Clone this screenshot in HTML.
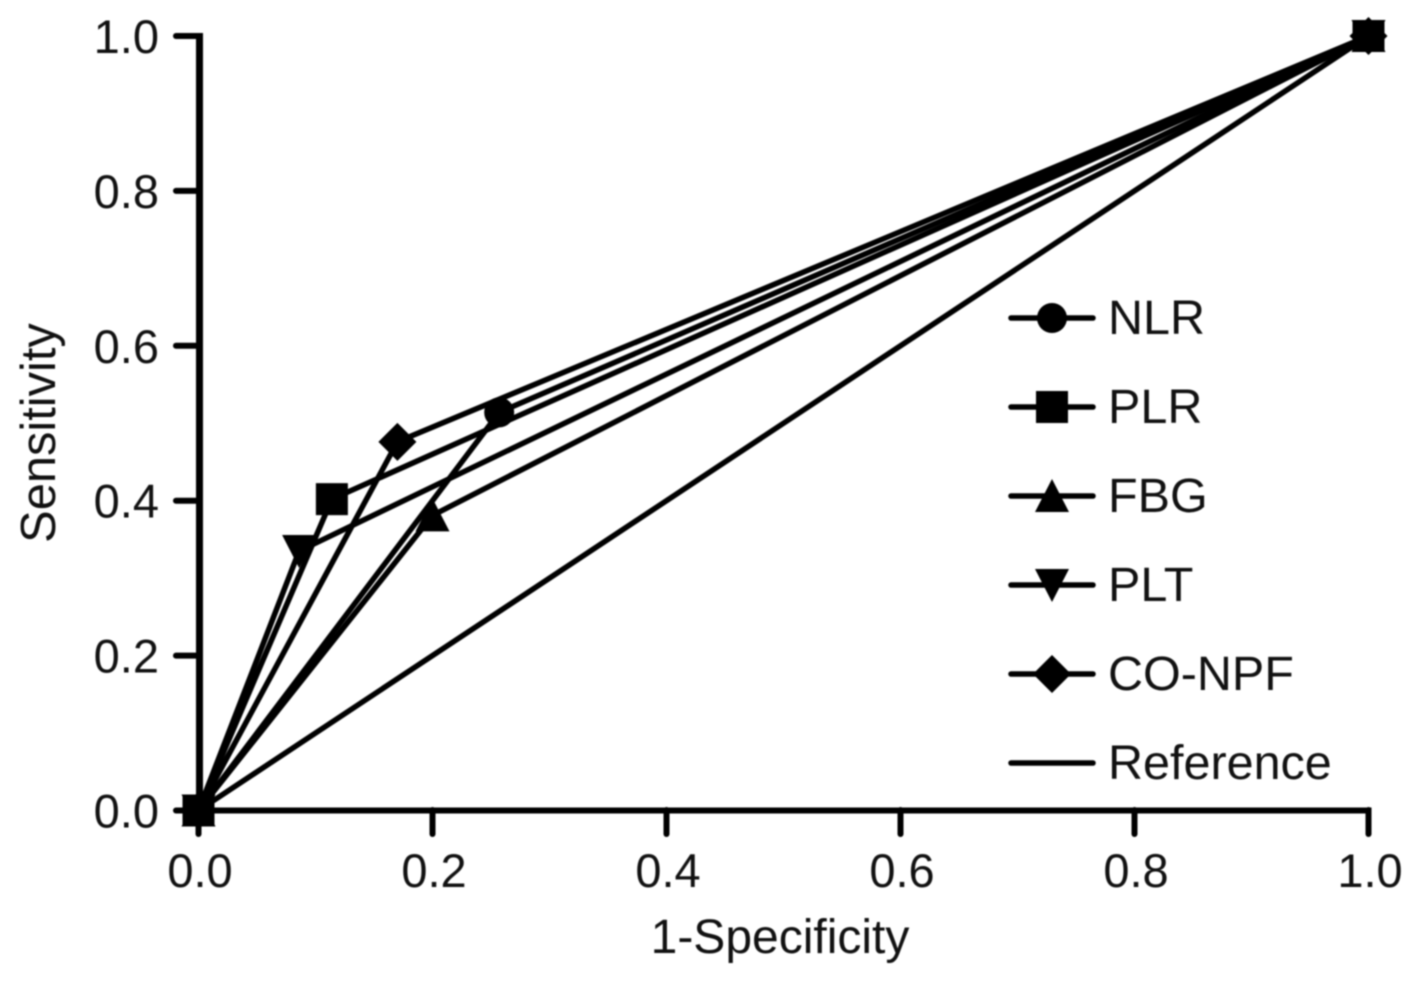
<!DOCTYPE html>
<html>
<head>
<meta charset="utf-8">
<title>ROC curves</title>
<style>
html,body{margin:0;padding:0;background:#fff;width:1417px;height:981px;overflow:hidden}
svg{display:block;filter:blur(0.8px)}
text{font-family:"Liberation Sans",Arial,sans-serif;fill:#111}
</style>
</head>
<body>
<svg id="chart" xmlns="http://www.w3.org/2000/svg" width="1417" height="981" viewBox="0 0 1417 981"></svg>
<script>
const seriesNames = ['NLR', 'PLR', 'FBG', 'PLT', 'CO-NPF'];
const seriesMarkers = ['circle', 'square', 'triangle', 'invtriangle', 'diamond'];
const nlrX = [0, 0.257, 1];
const nlrY = [0, 0.514, 1];
const plrX = [0, 0.114, 1];
const plrY = [0, 0.402, 1];
const fbgX = [0, 0.2, 1];
const fbgY = [0, 0.381, 1];
const pltX = [0, 0.086, 1];
const pltY = [0, 0.335, 1];
const conpfX = [0, 0.17, 1];
const conpfY = [0, 0.476, 1];
const referenceX = [0, 1];
const referenceY = [0, 1];
const xTicks = [0, 0.2, 0.4, 0.6, 0.8, 1];
const yTicks = [0, 0.2, 0.4, 0.6, 0.8, 1];
const legendLabels = ['NLR', 'PLR', 'FBG', 'PLT', 'CO-NPF', 'Reference'];

const allX = [nlrX, plrX, fbgX, pltX, conpfX];
const allY = [nlrY, plrY, fbgY, pltY, conpfY];
const svg = document.getElementById('chart');
const NS = 'http://www.w3.org/2000/svg';
const sx = v => 198.5 + 1170 * v;
const sy = v => 810.5 - 774.5 * v;

function make(tag, attrs, parent) {
  const el = document.createElementNS(NS, tag);
  for (const k in attrs) el.setAttribute(k, attrs[k]);
  (parent || svg).appendChild(el);
  return el;
}
function drawMarker(kind, x, y, parent) {
  if (kind === 'circle') return make('circle', {cx: x, cy: y, r: 15, fill: '#000'}, parent);
  if (kind === 'square') return make('rect', {x: x - 16, y: y - 16, width: 32, height: 32, fill: '#000'}, parent);
  let pts;
  if (kind === 'triangle') pts = [[x, y - 17], [x + 17, y + 16], [x - 17, y + 16]];
  if (kind === 'invtriangle') pts = [[x - 17, y - 16], [x + 17, y - 16], [x, y + 17]];
  if (kind === 'diamond') pts = [[x, y - 19], [x + 19, y], [x, y + 19], [x - 19, y]];
  return make('polygon', {points: pts.map(p => p.join(',')).join(' '), fill: '#000'}, parent);
}

// reference line
const refLine = make('polyline', {
  points: referenceX.map((v, i) => sx(v) + ',' + sy(referenceY[i])).join(' '),
  fill: 'none', stroke: '#000', 'stroke-width': 5.5
});



// axes
const axisY = make('line', {x1: 199.5, y1: sy(1) - 3, x2: 199.5, y2: 813.5, stroke: '#000', 'stroke-width': 7});


const axisX = make('line', {x1: 196, y1: 810.5, x2: sx(1) + 3, y2: 810.5, stroke: '#000', 'stroke-width': 6});



xTicks.forEach(v => {
  const t = make('line', {x1: sx(v), y1: 810, x2: sx(v), y2: 834, stroke: '#000', 'stroke-width': 6, 'stroke-linecap': 'round'});
  
  
  const l = make('text', {x: sx(v) + 1.5, y: 887, 'font-size': 47, 'text-anchor': 'middle'});
  l.textContent = v.toFixed(1);
  
  
});
yTicks.forEach(v => {
  const t = make('line', {x1: 176, y1: sy(v), x2: 200, y2: sy(v), stroke: '#000', 'stroke-width': 6, 'stroke-linecap': 'round'});
  
  
  const l = make('text', {x: 159, y: sy(v) + 17, 'font-size': 47, 'text-anchor': 'end'});
  l.textContent = v.toFixed(1);
  
  
});

// series
seriesNames.forEach((name, s) => {
  const g = make('g', {});
  
  
  make('polyline', {
    points: allX[s].map((v, i) => sx(v) + ',' + sy(allY[s][i])).join(' '),
    fill: 'none', stroke: '#000', 'stroke-width': 5.5, 'stroke-linejoin': 'round'
  }, g);
  allX[s].forEach((v, i) => {
    const m = drawMarker(seriesMarkers[s], sx(v), sy(allY[s][i]), g);
    
    
  });
});

// axis titles
const xTitle = make('text', {x: 780, y: 953, 'font-size': 48, 'text-anchor': 'middle'});
xTitle.textContent = '1-Specificity';


const yTitle = make('text', {x: 0, y: 0, 'font-size': 48.8, 'text-anchor': 'middle', transform: 'translate(55 433) rotate(-90)'});
yTitle.textContent = 'Sensitivity';



// legend
legendLabels.forEach((name, i) => {
  const y = 318 + 89 * i;
  const g = make('g', {});
  
  
  make('line', {x1: 1011, y1: y, x2: 1093, y2: y, stroke: '#000', 'stroke-width': 5.5, 'stroke-linecap': 'round'}, g);
  if (seriesMarkers[i]) drawMarker(seriesMarkers[i], 1052, y, g);
  const t = make('text', {x: 1108, y: y + 16, 'font-size': 48.5}, g);
  t.textContent = name;
  
  
});
</script>
</body>
</html>
